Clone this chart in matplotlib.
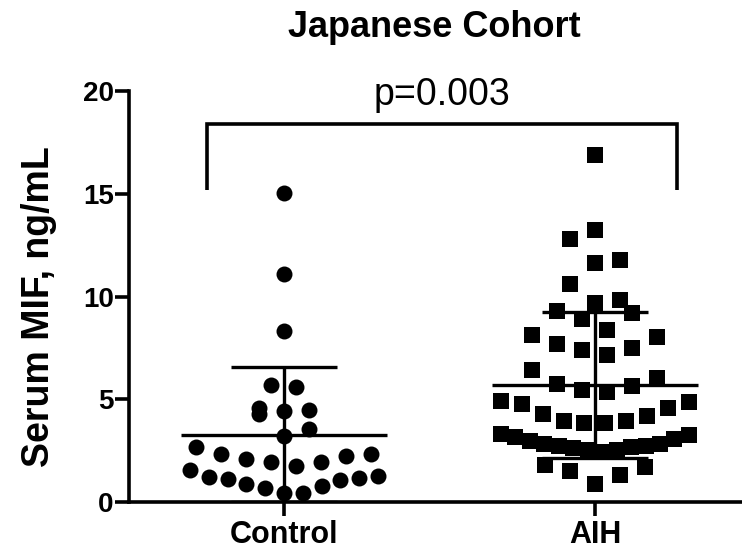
import numpy as np
import matplotlib
matplotlib.use("Agg")
import matplotlib.pyplot as plt

# values (ng/mL)
groups = ["Control", "AIH"]
control = [15.02, 11.08, 8.31, 5.62, 5.70, 4.26, 4.50, 4.42, 4.58, 3.57, 3.21,
           2.68, 2.33, 2.09, 1.96, 1.77, 1.96, 2.25, 2.36,
           1.56, 1.24, 1.12, 0.88, 0.69, 0.43, 0.43, 0.80, 1.08, 1.17, 1.29]
aih = [16.88, 13.25, 12.79, 11.80, 11.64, 10.60, 9.68, 9.84, 9.28, 8.92, 9.19,
       8.36, 7.70, 8.12, 8.02, 7.50, 7.13, 7.42, 6.44,
       5.76, 5.44, 5.33, 5.65, 6.02,
       4.85, 4.57, 4.20, 3.93, 3.85, 3.85, 3.96, 4.28, 4.77, 4.93,
       3.24, 3.08, 2.84, 2.75, 2.67, 2.51, 2.43, 2.51, 2.64, 2.75, 2.84, 2.99, 3.15, 3.29,
       1.82, 1.51, 0.90, 1.30, 1.71]
yticks = [0, 5, 10, 15, 20]
p_label = "p=0.003"

plt.rcParams['font.family'] = ['Liberation Sans', 'DejaVu Sans']

fig = plt.figure(figsize=(7.42, 5.57), dpi=100)
ax = fig.add_axes([0.1739, 0.0987, 0.8261, 0.7379])
ax.set_xlim(-0.498, 1.473)
ax.set_ylim(0, 20)


def row_offsets(vals, row_h, step, max_w):
    """prism-style column scatter: points grouped in rows, lowest in the middle,
    then alternating right/left. step and max_w in pixels, returns data offsets"""
    t = ax.transData
    sx = t.transform((1, 0))[0] - t.transform((0, 0))[0]
    vals = np.asarray(vals)
    order = np.argsort(vals, kind='stable')
    rows, cur = [], [order[0]]
    for i in order[1:]:
        if vals[i] - vals[cur[0]] <= row_h:
            cur.append(i)
        else:
            rows.append(cur)
            cur = [i]
    rows.append(cur)
    offs = np.zeros(len(vals))
    for row in rows:
        n = len(row)
        gap = step if n < 2 else min(step, max_w / (n - 1))
        for k, i in enumerate(row):
            if n % 2:
                slot = (k + 1) // 2 * (1 if k % 2 else -1)
            else:
                slot = (k // 2 + 0.5) * (1 if k % 2 == 0 else -1)
            offs[i] = slot * gap
    return offs / sx


lw = 2.4
for x, vals, mk, ms in [(0, control, 'o', 11.5), (1, aih, 's', 12)]:
    offs = row_offsets(vals, 1.15, 25.0, 188.0)
    ax.plot(x + offs, vals, mk, color='black', ms=ms, mew=0, ls='none', zorder=3)
    m = np.mean(vals)
    s = np.std(vals, ddof=1)
    ax.hlines(m, x - 0.33, x + 0.33, color='black', lw=lw, zorder=4)
    ax.vlines(x, max(m - s, 0), m + s, color='black', lw=lw, zorder=4)
    ax.hlines([m - s, m + s], x - 0.17, x + 0.17, color='black', lw=lw, zorder=4)

# significance bracket
ax.plot([-0.248, -0.248, 1.264, 1.264], [15.2, 18.4, 18.4, 15.2],
        color='black', lw=2.6, solid_joinstyle='miter', solid_capstyle='butt')
ax.text(0.508, 19.3, p_label, ha='center', va='baseline', fontsize=27)

for side in ['top', 'right']:
    ax.spines[side].set_visible(False)
for side in ['left', 'bottom']:
    ax.spines[side].set_linewidth(2.6)

ax.set_yticks(yticks)
ax.set_xticks([0, 1])
ax.set_xticklabels(groups, fontsize=22, fontweight='bold')
ax.set_yticklabels([str(v) for v in yticks], fontsize=20, fontweight='bold')
ax.tick_params(axis='both', width=2.6, length=10, direction='out', color='black')
ax.tick_params(axis='y', pad=1)
ax.tick_params(axis='x', pad=3)

fig.text(0.586, 0.934, "Japanese Cohort", ha='center', va='baseline',
         fontsize=26, fontweight='bold')
fig.text(0.053, 0.449, "Serum MIF, ng/mL", rotation=90, ha='center', va='center',
         fontsize=27, fontweight='bold')

fig.savefig("out.png", dpi=100)
